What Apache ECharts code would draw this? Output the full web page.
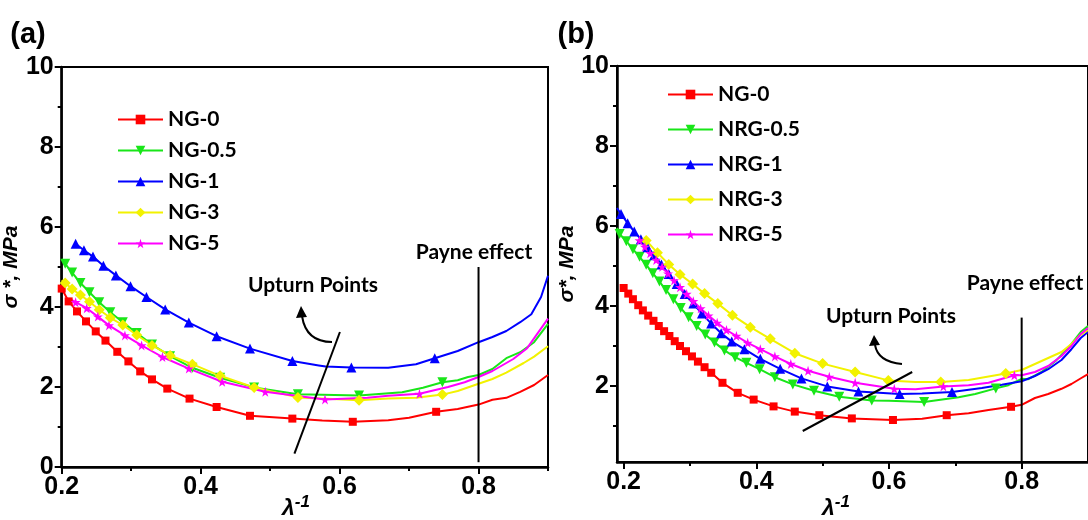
<!DOCTYPE html>
<html>
<head>
<meta charset="utf-8">
<script src="https://cdn.jsdelivr.net/npm/echarts@6/dist/echarts.min.js"></script>
<style>
  html, body { margin: 0; padding: 0; background: #fff; }
  #chart { width: 1088px; height: 520px; }
</style>
</head>
<body>
<div id="chart"></div>
<script>
// 面板 (a)：带标记的点 + 只画线的点
const ng0A = [[0.200,4.46],[0.210,4.14],[0.222,3.89],[0.235,3.64],[0.249,3.39],[0.263,3.16],[0.280,2.88],[0.296,2.64],[0.313,2.39],[0.330,2.19],[0.352,1.96],[0.384,1.71],[0.423,1.50],[0.471,1.28],[0.532,1.21],[0.619,1.13],[0.739,1.38]];
const ng0APlain = [[0.575,1.16],[0.67,1.17],[0.70,1.23],[0.77,1.45],[0.80,1.56],[0.82,1.68],[0.84,1.73],[0.86,1.88],[0.88,2.05],[0.90,2.30]];
const ng05A = [[0.205,5.08],[0.215,4.86],[0.227,4.60],[0.240,4.37],[0.254,4.12],[0.270,3.87],[0.288,3.62],[0.308,3.35],[0.330,3.06],[0.356,2.77],[0.388,2.48],[0.428,2.23],[0.477,1.99],[0.540,1.82],[0.628,1.79],[0.748,2.12]];
const ng05APlain = [[0.200,5.20],[0.69,1.87],[0.72,1.98],[0.77,2.17],[0.785,2.25],[0.80,2.30],[0.82,2.45],[0.84,2.72],[0.86,2.87],[0.88,3.12],[0.90,3.58]];
const ng1A = [[0.220,5.58],[0.232,5.42],[0.245,5.26],[0.260,5.03],[0.278,4.79],[0.299,4.52],[0.322,4.25],[0.349,3.94],[0.383,3.61],[0.423,3.27],[0.471,2.96],[0.532,2.65],[0.617,2.49],[0.737,2.72]];
const ng1APlain = [[0.57,2.54],[0.58,2.51],[0.67,2.48],[0.71,2.57],[0.77,2.90],[0.80,3.12],[0.82,3.25],[0.84,3.40],[0.86,3.62],[0.876,3.82],[0.89,4.25],[0.90,4.78]];
const ng3A = [[0.205,4.60],[0.215,4.45],[0.227,4.30],[0.240,4.13],[0.254,3.93],[0.270,3.73],[0.288,3.55],[0.308,3.30],[0.330,3.04],[0.356,2.79],[0.388,2.57],[0.428,2.28],[0.477,1.99],[0.540,1.74],[0.628,1.67],[0.748,1.81]];
const ng3APlain = [[0.200,4.67],[0.59,1.70],[0.67,1.71],[0.71,1.73],[0.77,1.90],[0.80,2.08],[0.82,2.20],[0.84,2.36],[0.865,2.60],[0.88,2.76],[0.90,3.02]];
const ng5A = [[0.220,4.12],[0.236,3.97],[0.252,3.76],[0.268,3.54],[0.291,3.29],[0.315,3.04],[0.345,2.75],[0.383,2.46],[0.431,2.13],[0.493,1.88],[0.579,1.69],[0.715,1.83]];
const ng5APlain = [[0.212,4.20],[0.64,1.73],[0.67,1.78],[0.756,2.00],[0.78,2.12],[0.80,2.25],[0.82,2.40],[0.85,2.70],[0.87,2.97],[0.90,3.71]];

// 面板 (b)
const ng0B = [[0.200,4.45],[0.207,4.31],[0.214,4.17],[0.222,4.02],[0.229,3.89],[0.237,3.76],[0.245,3.63],[0.253,3.50],[0.261,3.37],[0.269,3.25],[0.277,3.12],[0.285,3.00],[0.294,2.87],[0.303,2.74],[0.312,2.61],[0.322,2.47],[0.332,2.33],[0.349,2.08],[0.372,1.83],[0.396,1.66],[0.426,1.49],[0.458,1.36],[0.495,1.27],[0.544,1.19],[0.606,1.15],[0.687,1.27],[0.784,1.48]];
const ng0BPlain = [[0.65,1.18],[0.72,1.32],[0.75,1.40],[0.80,1.53],[0.82,1.70],[0.84,1.80],[0.86,1.93],[0.875,2.05],[0.89,2.20],[0.90,2.30]];
const nrg05B = [[0.194,5.80],[0.204,5.62],[0.214,5.42],[0.224,5.23],[0.234,5.03],[0.244,4.82],[0.254,4.61],[0.264,4.40],[0.275,4.17],[0.286,3.95],[0.298,3.72],[0.310,3.50],[0.323,3.29],[0.337,3.09],[0.352,2.89],[0.368,2.72],[0.385,2.58],[0.405,2.42],[0.428,2.22],[0.455,2.04],[0.487,1.88],[0.525,1.73],[0.574,1.64],[0.653,1.60],[0.761,1.94]];
const nrg05BPlain = [[0.190,5.95],[0.60,1.63],[0.705,1.72],[0.73,1.80],[0.78,2.02],[0.80,2.18],[0.81,2.17],[0.83,2.35],[0.852,2.64],[0.87,2.95],[0.889,3.35],[0.90,3.50]];
const nrg1B = [[0.196,6.30],[0.206,6.07],[0.216,5.86],[0.226,5.67],[0.236,5.47],[0.246,5.27],[0.257,5.04],[0.268,4.80],[0.280,4.55],[0.292,4.30],[0.305,4.06],[0.318,3.81],[0.332,3.56],[0.347,3.32],[0.363,3.11],[0.382,2.92],[0.406,2.68],[0.436,2.43],[0.468,2.19],[0.507,1.99],[0.554,1.86],[0.616,1.80],[0.695,1.85]];
const nrg1BPlain = [[0.190,6.45],[0.65,1.81],[0.74,1.95],[0.77,2.03],[0.80,2.12],[0.82,2.25],[0.84,2.42],[0.86,2.65],[0.875,2.92],[0.889,3.20],[0.90,3.35]];
const nrg3B = [[0.234,5.64],[0.251,5.33],[0.268,5.04],[0.285,4.79],[0.304,4.55],[0.322,4.31],[0.342,4.06],[0.364,3.77],[0.391,3.47],[0.421,3.18],[0.458,2.82],[0.500,2.56],[0.549,2.35],[0.599,2.14],[0.678,2.10],[0.776,2.31]];
const nrg3BPlain = [[0.64,2.10],[0.72,2.15],[0.80,2.40],[0.82,2.55],[0.84,2.70],[0.86,2.85],[0.875,3.05],[0.889,3.28],[0.90,3.40]];
const nrg5B = [[0.224,5.64],[0.232,5.48],[0.240,5.32],[0.249,5.15],[0.258,4.98],[0.267,4.81],[0.276,4.64],[0.285,4.47],[0.295,4.30],[0.305,4.12],[0.316,3.94],[0.328,3.76],[0.341,3.58],[0.355,3.40],[0.370,3.25],[0.387,3.08],[0.406,2.92],[0.428,2.74],[0.452,2.55],[0.478,2.38],[0.510,2.23],[0.549,2.08],[0.608,1.93],[0.682,1.99],[0.789,2.27]];
const nrg5BPlain = [[0.64,1.92],[0.72,2.02],[0.75,2.08],[0.80,2.27],[0.82,2.35],[0.84,2.50],[0.86,2.75],[0.875,3.00],[0.889,3.30],[0.90,3.45]];

// 标注线（数据坐标）
const upturnLineA = [[0.6005,3.375],[0.535,0.333]];
const payneLineA = [[0.8,5.0],[0.8,0.12]];
const upturnLineB = [[0.470,0.875],[0.635,2.35]];
const payneLineB = [[0.8,3.71],[0.8,0.1]];

// 刻度
const xMajor = [0.2, 0.4, 0.6, 0.8];
const xMinorA = [0.3, 0.5, 0.7, 0.9];
const xMinorB = [0.3, 0.5, 0.7];
const yMajorA = [0, 2, 4, 6, 8, 10];
const yMajorB = [2, 4, 6, 8, 10];
const yMinor = [1, 3, 5, 7, 9];

const namesA = ["NG-0", "NG-0.5", "NG-1", "NG-3", "NG-5"];
const namesB = ["NG-0", "NRG-0.5", "NRG-1", "NRG-3", "NRG-5"];

const RED = "#ff0000", GREEN = "#19e619", BLUE = "#0000ff", YELLOW = "#f2f200", MAGENTA = "#ff00ff";
const STAR = "path://M50,0 L61,35 L98,35 L68,57 L79,91 L50,70 L21,91 L32,57 L2,35 L39,35 Z";
const TICK_FONT = "Liberation Sans, Arial, sans-serif";
const TEXT_FONT = "Lato, Open Sans, sans-serif";

// 合并带标记点和无标记点
function buildData(marked, plain) {
  const pts = marked.map((p) => ({ value: p }));
  plain.forEach((p) => pts.push({ value: p, symbol: "none" }));
  pts.sort((a, b) => a.value[0] - b.value[0]);
  return pts;
}

function curve(name, color, symbol, size, rotate, marked, plain, idx) {
  return {
    name: name,
    type: "line",
    xAxisIndex: idx,
    yAxisIndex: idx,
    data: buildData(marked, plain),
    symbol: symbol,
    symbolSize: size,
    symbolRotate: rotate,
    showAllSymbol: true,
    lineStyle: { width: 2, color: color },
    itemStyle: { color: color },
    emphasis: { disabled: true },
  };
}

function guide(data, idx) {
  return {
    type: "line",
    xAxisIndex: idx,
    yAxisIndex: idx,
    data: data,
    symbol: "none",
    silent: true,
    lineStyle: { width: 2, color: "#000" },
    z: 5,
  };
}

function majorX(min, max, gridIdx) {
  return {
    type: "value", gridIndex: gridIdx, min: min, max: max, position: "bottom",
    axisLine: { show: true, onZero: false, lineStyle: { color: "#000", width: 2.5 } },
    axisTick: { show: true, customValues: xMajor, length: 7, lineStyle: { color: "#000", width: 2 } },
    axisLabel: {
      customValues: xMajor, margin: 8, color: "#000", fontFamily: TICK_FONT, fontWeight: "bold", fontSize: 25,
      formatter: (v) => v.toFixed(1),
    },
    splitLine: { show: false },
  };
}
function minorX(min, max, gridIdx, vals) {
  return {
    type: "value", gridIndex: gridIdx, min: min, max: max, position: "bottom",
    axisLine: { show: false, onZero: false },
    axisTick: { show: true, customValues: vals, length: 4, lineStyle: { color: "#000", width: 2 } },
    axisLabel: { show: false },
    splitLine: { show: false },
  };
}
function majorY(min, max, gridIdx, vals, name, gap) {
  return {
    type: "value", gridIndex: gridIdx, min: min, max: max, position: "left",
    name: name, nameLocation: "middle", nameGap: gap,
    nameTextStyle: { color: "#000", fontFamily: TICK_FONT, fontWeight: "bold", fontStyle: "italic", fontSize: 21 },
    axisLine: { show: true, onZero: false, lineStyle: { color: "#000", width: 2.5 } },
    axisTick: { show: true, customValues: vals, length: 7, lineStyle: { color: "#000", width: 2 } },
    axisLabel: { customValues: vals, margin: 8, color: "#000", fontFamily: TICK_FONT, fontWeight: "bold", fontSize: 25 },
    splitLine: { show: false },
  };
}
function minorY(min, max, gridIdx) {
  return {
    type: "value", gridIndex: gridIdx, min: min, max: max, position: "left",
    axisLine: { show: false, onZero: false },
    axisTick: { show: true, customValues: yMinor, length: 4, lineStyle: { color: "#000", width: 2 } },
    axisLabel: { show: false },
    splitLine: { show: false },
  };
}

function legendAt(names, left, top, gap) {
  return {
    data: names, orient: "vertical", left: left, top: top,
    itemWidth: 45, itemHeight: 12, itemGap: gap, selectedMode: false,
    textStyle: { color: "#000", fontFamily: TEXT_FONT, fontWeight: "bold", fontSize: 21, lineHeight: 20 },
  };
}

function label(text, x, y, size, font) {
  return {
    type: "text", x: x, y: y, z: 10,
    style: { text: text, fill: "#000", fontFamily: font, fontWeight: "bold", fontSize: size, align: "center", verticalAlign: "middle" },
  };
}
function lambdaTitle(x, y) {
  return {
    type: "text", x: x, y: y, z: 10,
    style: {
      text: "{a|λ}{b|-1}", align: "center", verticalAlign: "middle",
      rich: {
        a: { fontFamily: TICK_FONT, fontStyle: "italic", fontWeight: "bold", fontSize: 23, lineHeight: 26, verticalAlign: "bottom", fill: "#000" },
        b: { fontFamily: TICK_FONT, fontStyle: "italic", fontWeight: "bold", fontSize: 17, lineHeight: 26, verticalAlign: "top", fill: "#000" },
      },
    },
  };
}
function arrow(x1, y1, cx, cy, x2, y2, head) {
  return [
    { type: "bezierCurve", z: 10, shape: { x1: x1, y1: y1, cpx1: cx, cpy1: cy, x2: x2, y2: y2 }, style: { stroke: "#000", lineWidth: 2, fill: null } },
    { type: "polygon", z: 10, shape: { points: head }, style: { fill: "#000" } },
  ];
}

const chart = echarts.init(document.getElementById("chart"));
const option = {
  animation: false,
  backgroundColor: "#fff",
  grid: [
    { left: 61, top: 67, width: 487, height: 400, show: true, borderColor: "#000", borderWidth: 2 },
    { left: 617, top: 66, width: 480, height: 396, show: true, borderColor: "#000", borderWidth: 2 },
  ],
  xAxis: [majorX(0.2, 0.9, 0), minorX(0.2, 0.9, 0, xMinorA), majorX(0.19, 0.9, 1), minorX(0.19, 0.9, 1, xMinorB)],
  yAxis: [
    majorY(0, 10, 0, yMajorA, "σ *, MPa", 26), minorY(0, 10, 0),
    majorY(0.1, 10, 1, yMajorB, "σ*, MPa", 34), minorY(0.1, 10, 1),
  ],
  legend: [legendAt(namesA, 112, 104, 10), legendAt(namesB, 662, 79, 14)],
  series: [
    curve("NG-0", RED, "rect", 8, 0, ng0A, ng0APlain, 0),
    curve("NG-0.5", GREEN, "triangle", 10, 180, ng05A, ng05APlain, 0),
    curve("NG-1", BLUE, "triangle", 10, 0, ng1A, ng1APlain, 0),
    curve("NG-3", YELLOW, "diamond", 11, 0, ng3A, ng3APlain, 0),
    curve("NG-5", MAGENTA, STAR, 10, 0, ng5A, ng5APlain, 0),
    curve("NG-0", RED, "rect", 8, 0, ng0B, ng0BPlain, 2),
    curve("NRG-0.5", GREEN, "triangle", 10, 180, nrg05B, nrg05BPlain, 2),
    curve("NRG-1", BLUE, "triangle", 10, 0, nrg1B, nrg1BPlain, 2),
    curve("NRG-3", YELLOW, "diamond", 11, 0, nrg3B, nrg3BPlain, 2),
    curve("NRG-5", MAGENTA, STAR, 10, 0, nrg5B, nrg5BPlain, 2),
    guide(upturnLineA, 0), guide(payneLineA, 0),
    guide(upturnLineB, 2), guide(payneLineB, 2),
  ],
  graphic: [
    label("(a)", 28, 35, 29, TICK_FONT),
    label("(b)", 576, 35, 29, TICK_FONT),
    label("Upturn Points", 313, 285, 21, TEXT_FONT),
    label("Upturn Points", 891, 316, 21, TEXT_FONT),
    label("Payne effect", 474, 252, 21, TEXT_FONT),
    label("Payne effect", 1025, 283, 21, TEXT_FONT),
    lambdaTitle(296, 507),
    lambdaTitle(836, 507),
  ]
    .concat(arrow(332, 342, 306, 342, 302, 316, [[301, 306], [296, 318], [307, 317]]))
    .concat(arrow(902, 364, 878, 362, 875, 345, [[874, 335], [869, 346], [880, 345]])),
};
chart.setOption(option);
</script>
</body>
</html>
